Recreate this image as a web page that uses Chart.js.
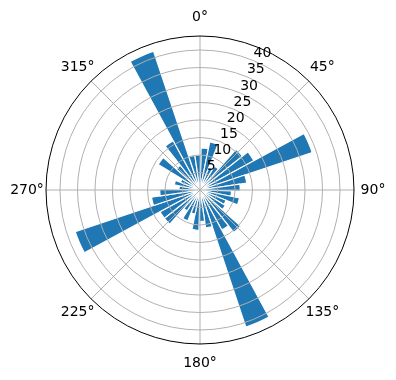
<!DOCTYPE html>
<html>
<head>
<meta charset="utf-8">
<script src="https://cdn.jsdelivr.net/npm/chart.js@4"></script>
<style>
  html, body { margin: 0; padding: 0; background: #ffffff; }
</style>
</head>
<body>
<canvas id="myChart" width="396" height="380"></canvas>
<script>
// direction bins (start of each 10 degree sector, clockwise from north)
const directions = ["0", "10", "20", "30", "40", "50", "60", "70", "80", "90", "100", "110",
  "120", "130", "140", "150", "160", "170", "180", "190", "200", "210", "220", "230",
  "240", "250", "260", "270", "280", "290", "300", "310", "320", "330", "340", "350"];
const counts = [12, 14, 7, 8, 15.5, 17.5, 33.8, 13.5, 11.5, 9, 11.5, 8,
  8.5, 15.5, 13, 41.3, 11, 9, 11.5, 7, 9.5, 7, 13, 13,
  37.6, 14, 11.5, 6, 7.5, 6, 14, 9, 16, 41.8, 10, 10];
const rTicks = [5, 10, 15, 20, 25, 30, 35, 40];
const angleTicks = [0, 45, 90, 135, 180, 225, 270, 315];
const angleLabels = ["0°", "45°", "90°", "135°", "180°", "225°", "270°", "315°"];

const ctx = document.getElementById("myChart");

// matplotlib-style polar grid, spine and labels drawn on top of the bars
const polarGrid = {
  id: "polarGrid",
  afterDatasetsDraw(chart) {
    const c = chart.ctx;
    const s = chart.scales.r;
    const cx = s.xCenter, cy = s.yCenter, R = s.drawingArea;
    c.save();
    c.strokeStyle = "#b0b0b0";
    c.lineWidth = 1;
    rTicks.forEach((v) => {
      c.beginPath();
      c.arc(cx, cy, s.getDistanceFromCenterForValue(v), 0, 2 * Math.PI);
      c.stroke();
    });
    angleTicks.forEach((a) => {
      const t = (a - 90) * Math.PI / 180;
      c.beginPath();
      c.moveTo(cx, cy);
      c.lineTo(cx + R * Math.cos(t), cy + R * Math.sin(t));
      c.stroke();
    });
    c.strokeStyle = "#000000";
    c.lineWidth = 1;
    c.beginPath();
    c.arc(cx, cy, R, 0, 2 * Math.PI);
    c.stroke();

    c.fillStyle = "#000000";
    c.font = '14px "DejaVu Sans"';
    c.textAlign = "left";
    c.textBaseline = "bottom";
    const ra = (22.5 - 90) * Math.PI / 180;
    rTicks.forEach((v) => {
      const d = s.getDistanceFromCenterForValue(v);
      c.fillText(String(v), cx + d * Math.cos(ra), cy + d * Math.sin(ra));
    });

    c.textAlign = "center";
    c.textBaseline = "middle";
    angleTicks.forEach((a, i) => {
      const t = (a - 90) * Math.PI / 180;
      c.fillText(angleLabels[i], cx + (R + 19) * Math.cos(t), cy + (R + 19) * Math.sin(t));
    });
    c.restore();
  },
};

new Chart(ctx, {
  type: "polarArea",
  data: {
    labels: directions,
    datasets: [
      {
        data: counts,
        backgroundColor: "#1f77b4",
        borderColor: "#ffffff",
        borderWidth: 1.2,
      },
    ],
  },
  options: {
    responsive: false,
    animation: false,
    layout: { padding: { left: 46, right: 42, top: 36, bottom: 36 } },
    plugins: {
      legend: { display: false },
      tooltip: { enabled: false },
    },
    scales: {
      r: {
        min: 0,
        max: 44,
        startAngle: 1.5,
        ticks: { display: false },
        grid: { display: false },
        angleLines: { display: false },
        pointLabels: { display: false },
      },
    },
  },
  plugins: [polarGrid],
});
</script>
</body>
</html>
